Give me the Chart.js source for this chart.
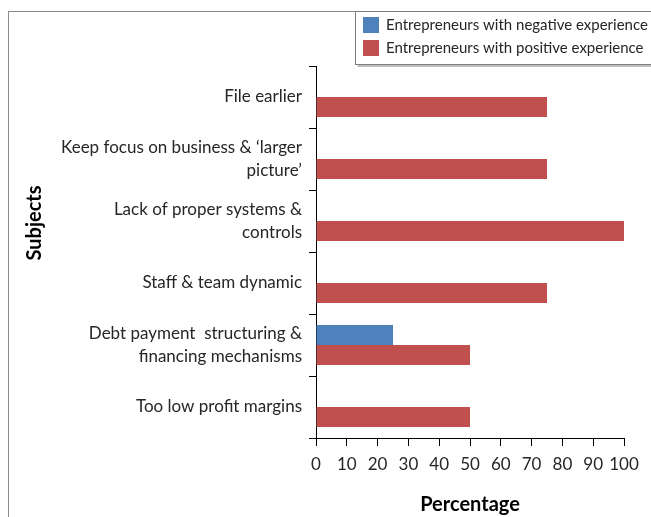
<!DOCTYPE html>
<html>
<head>
<meta charset="utf-8">
<script src="https://cdn.jsdelivr.net/npm/chart.js@4.4.1/dist/chart.umd.min.js"></script>
<style>
    html, body { margin: 0; padding: 0; background: #fff; overflow: hidden; }
    #wrap { position: relative; width: 651px; height: 517px; }
    #frame { position: absolute; left: 8px; top: 11px; width: 700px; height: 600px; border: 1px solid #8c8c8c; }
    canvas { position: absolute; left: 0; top: 0; }
</style>
</head>
<body>
<div id="wrap">
    <div id="frame"></div>
    <canvas id="myBarChart" width="651" height="517"></canvas>
</div>
<script>
const subjects = [
    'File earlier',
    ['Keep focus on business & \u2018larger', 'picture\u2019'],
    ['Lack of proper systems &', 'controls'],
    'Staff & team dynamic',
    ['Debt payment  structuring &', 'financing mechanisms'],
    'Too low profit margins'
];
const negativeValues = [0, 0, 0, 0, 25, 0];
const positiveValues = [75, 75, 100, 75, 50, 50];
const seriesLabels = ['Entrepreneurs with negative experience', 'Entrepreneurs with positive experience'];
const seriesColors = ['#4f81bd', '#c0504d'];

const FONT = 'Lato, "Open Sans", sans-serif';
const TEXT = '#262626';

// legend box in the top right, drawn by hand
const boxLegend = {
    id: 'boxLegend',
    afterDraw(chart) {
        const ctx = chart.ctx;
        ctx.save();
        ctx.fillStyle = '#fff';
        ctx.fillRect(356, 11, 300, 54);
        ctx.strokeStyle = '#bfbfbf';
        ctx.lineWidth = 2;
        ctx.beginPath();
        ctx.moveTo(357.5, 66);
        ctx.lineTo(660, 66);
        ctx.stroke();
        ctx.strokeStyle = '#7f7f7f';
        ctx.lineWidth = 1;
        ctx.strokeRect(355.5, 11.5, 320, 53);
        ctx.font = '15px ' + FONT;
        ctx.textBaseline = 'middle';
        chart.data.datasets.forEach((ds, i) => {
            const y = 25 + i * 23;
            ctx.fillStyle = ds.backgroundColor;
            ctx.fillRect(363, y - 8, 16, 16);
            ctx.fillStyle = TEXT;
            ctx.fillText(ds.label, 386, y);
        });
        ctx.restore();
    }
};

// rotated y title
const yTitle = {
    id: 'yTitle',
    afterDraw(chart) {
        const ctx = chart.ctx;
        ctx.save();
        ctx.translate(35, 223);
        ctx.rotate(-Math.PI / 2);
        ctx.font = 'bold 20px ' + FONT;
        ctx.fillStyle = '#000';
        ctx.textAlign = 'center';
        ctx.textBaseline = 'middle';
        ctx.fillText('Subjects', 0, 0);
        ctx.restore();
    }
};

function createBarChart() {
    const config = {
        type: 'bar',
        data: {
            labels: subjects,
            datasets: [{
                label: seriesLabels[0],
                data: negativeValues,
                backgroundColor: seriesColors[0]
            }, {
                label: seriesLabels[1],
                data: positiveValues,
                backgroundColor: seriesColors[1]
            }]
        },
        options: {
            indexAxis: 'y',
            responsive: false,
            animation: false,
            layout: { padding: { left: 8, top: 66, right: 27, bottom: 0 } },
            categoryPercentage: 0.645,
            barPercentage: 1,
            plugins: {
                legend: { display: false },
                tooltip: { enabled: false }
            },
            scales: {
                x: {
                    min: 0,
                    max: 100,
                    ticks: {
                        stepSize: 10,
                        maxRotation: 0,
                        autoSkip: false,
                        color: TEXT,
                        font: { family: FONT, size: 17 },
                        padding: 8
                    },
                    grid: {
                        drawOnChartArea: false,
                        color: '#000',
                        tickLength: 8,
                        tickColor: '#000'
                    },
                    border: { color: '#000', width: 1 },
                    title: {
                        display: true,
                        text: 'Percentage',
                        color: '#000',
                        font: { family: FONT, size: 20, weight: 'bold' },
                        padding: { top: 14, bottom: 0 }
                    },
                    afterFit: s => { s.height = 79; }
                },
                y: {
                    ticks: {
                        color: TEXT,
                        font: { family: FONT, size: 17, lineHeight: 1.35 },
                        padding: 7
                    },
                    grid: {
                        drawOnChartArea: false,
                        offset: true,
                        tickLength: 7,
                        tickColor: '#000'
                    },
                    border: { color: '#000', width: 1 },
                    afterFit: s => { s.width = 308; }
                }
            }
        },
        plugins: [boxLegend, yTitle]
    };
    const ctx = document.getElementById('myBarChart').getContext('2d');
    new Chart(ctx, config);
}

createBarChart();
</script>
</body>
</html>
